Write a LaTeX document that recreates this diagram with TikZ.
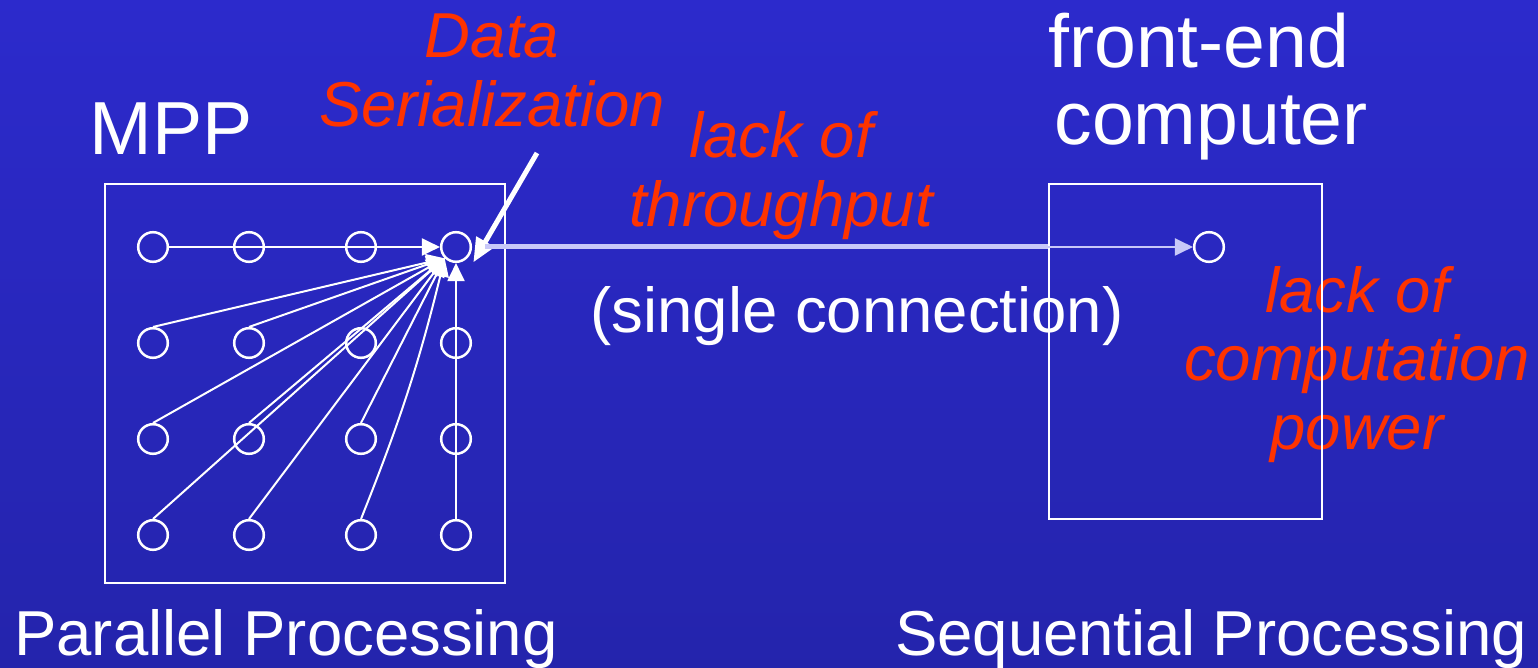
\documentclass[tikz,border=0pt]{standalone}
\usepackage{fontspec}
\setmainfont{Liberation Sans}
\usetikzlibrary{arrows.meta}

\definecolor{slidetop}{RGB}{44,42,204}
\definecolor{slidemid}{RGB}{26,24,126}
\definecolor{slidebot}{RGB}{36,36,172}
\definecolor{warn}{RGB}{255,51,0}
\definecolor{link}{RGB}{200,200,248}

\begin{document}
\begin{tikzpicture}[x=0.5pt,y=-0.5pt,>={Triangle[length=9pt,width=8.5pt]},
  proc/.style={circle,draw=white,line width=1.25pt,minimum size=14.8pt,inner sep=0pt},
  frame/.style={draw=white,line width=1pt,inner sep=0pt},
  big/.style={text=white,font=\fontsize{37.6}{38.5}\selectfont,inner sep=0pt},
  caption/.style={text=white,font=\fontsize{31.75}{34.5}\selectfont,inner sep=0pt},
  remark/.style={text=warn,font=\fontsize{31.75}{34.5}\selectfont\itshape,inner sep=0pt,align=center},
  feed/.style={->,draw=white,line width=1pt},
  node distance=48pt]

% slide background
\shade[top color=slidetop,middle color=slidemid,bottom color=slidebot] (0,0) rectangle (1538,668);
\useasboundingbox (0,0) rectangle (1538,668);

% titles and remarks (base = last line)
\node[big,anchor=base] (mpp) at (171,155) {MPP};
\node[big,align=left,anchor=base west] (fe_txt) at (1048,145) {front-end\\\hspace*{3pt}computer};
\node[remark,anchor=base] (ser_txt) at (492,127) {Data\\Serialization};
\node[remark,anchor=base] (thru_txt) at (781,227) {lack of\\throughput};
\node[remark,anchor=base] (power_txt) at (1357,450) {lack of\\computation\\power};
\node[caption,anchor=base] (single) at (857,333) {(single connection)};
\node[caption,anchor=base] (par) at (286,655) {Parallel Processing};
\node[caption,anchor=base] (seq) at (1211,655) {Sequential Processing};

% the two machines
\node[frame,minimum width=200pt,minimum height=199.5pt] (mpp_box) at (305,383.5) {};
\node[frame,minimum width=136.5pt,minimum height=167.5pt] (fe) at (1185.5,351.5) {};

% processor grid
\node[proc] (p_11) at (153,247) {};
\node[proc] (p_21) at (249,247) {};
\node[proc] (p_31) at (361,247) {};
\node[proc] (p_41) at (456,247) {};
\node[proc] (p_12) [below of=p_11] {};
\node[proc] (p_22) [below of=p_21] {};
\node[proc] (p_32) [below of=p_31] {};
\node[proc] (p_42) [below of=p_41] {};
\node[proc] (p_13) [below of=p_12] {};
\node[proc] (p_23) [below of=p_22] {};
\node[proc] (p_33) [below of=p_32] {};
\node[proc] (p_43) [below of=p_42] {};
\node[proc] (p_14) [below of=p_13] {};
\node[proc] (p_24) [below of=p_23] {};
\node[proc] (p_34) [below of=p_33] {};
\node[proc] (p_44) [below of=p_43] {};

% front-end processor
\node[proc] (s_1) at (1209,247) {};

% everything funnels into one node
\draw[feed] (p_11) -- (p_41);
\draw[feed] (p_12.north) -- (p_41.south west);
\draw[feed] (p_22.north) -- (p_41.south west);
\draw[feed] (p_13.north) -- (p_41.south west);
\draw[feed] (p_23.north) -- (p_41.south west);
\draw[feed] (p_33.north) -- (p_41.south west);
\draw[feed] (p_14.north) -- (p_41.south west);
\draw[feed] (p_24.north) -- (p_41.south west);
\draw[feed] (p_34.north) to[bend right=4] (p_41.south west);
\draw[feed] (p_44) -- (p_41);

% pointer from the label
\coordinate (ser_tail) at (537,153);
\draw[->,white,line width=2.5pt,>={Triangle[length=12pt,width=10pt]}]
  (ser_tail) -- ([shift={(6,4)}]p_41.south east);

% the single link
\coordinate (port) at (fe.west |- p_41);
\draw[link,line width=2.5pt,shorten <=6.5pt] (p_41) -- (port);
\draw[->,link,line width=1pt] (port) -- (s_1);

\end{tikzpicture}
\end{document}
